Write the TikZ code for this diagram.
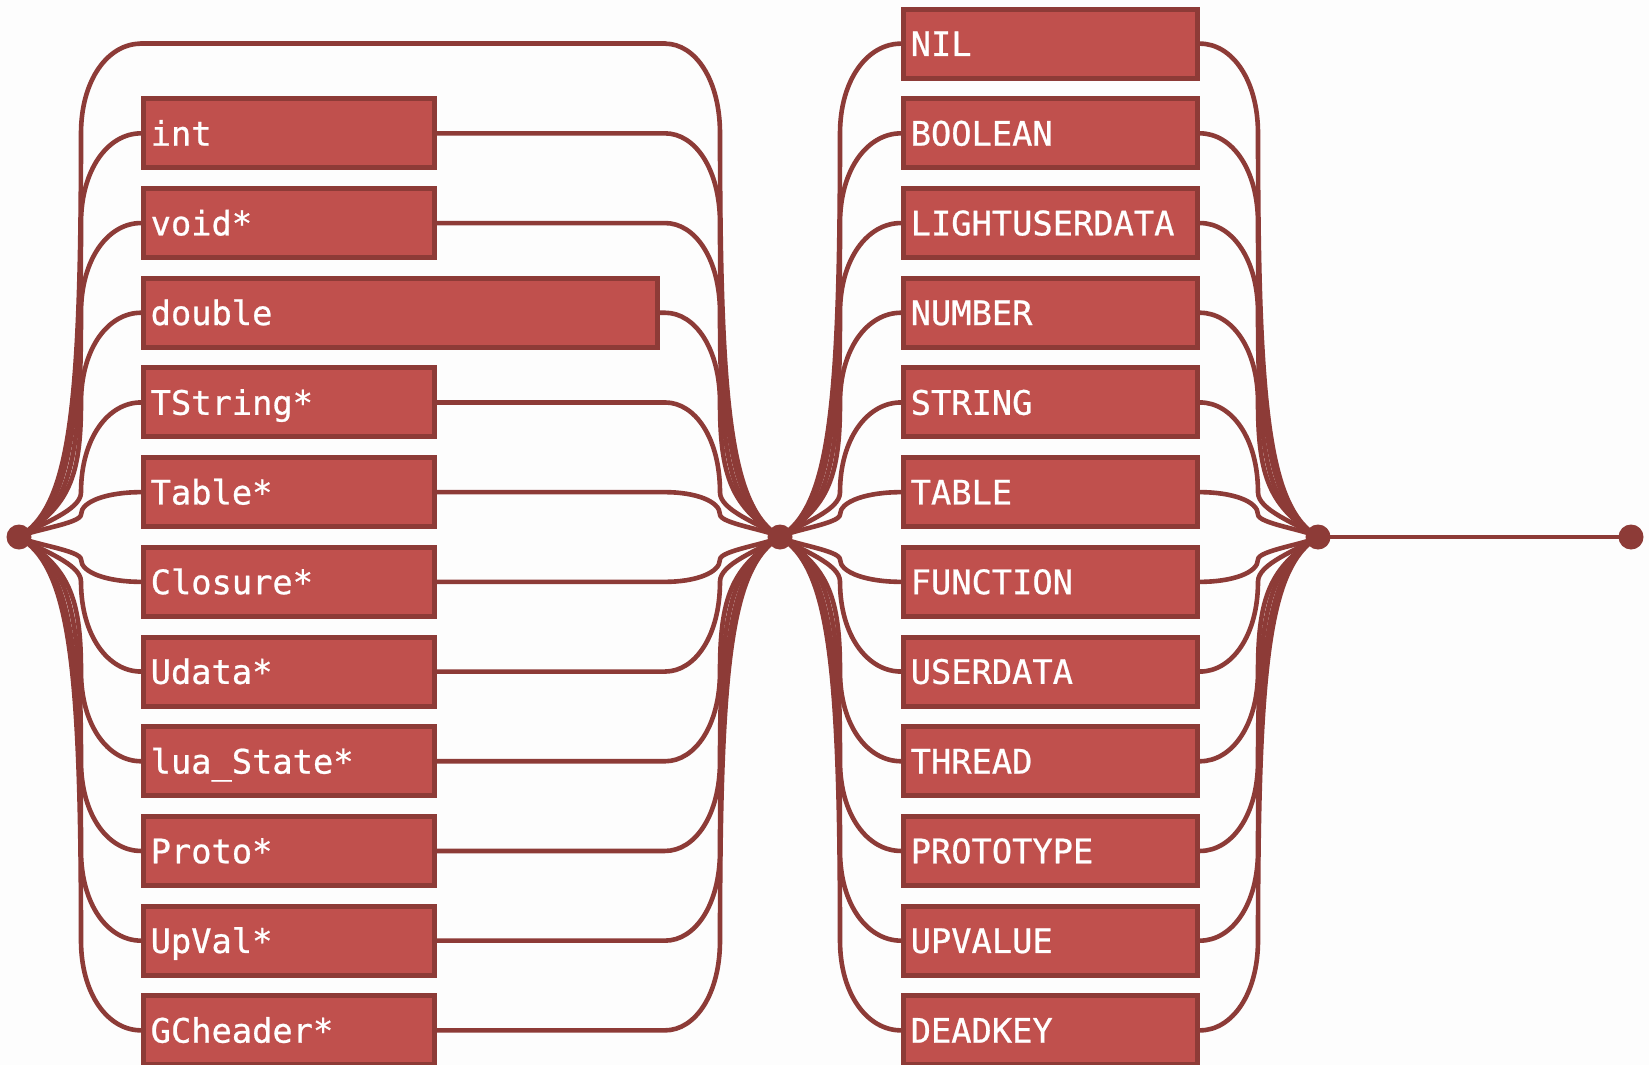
\documentclass[tikz,border=0pt]{standalone}
\usepackage{fontspec}
\newfontfamily\boxfont{DejaVu Sans Mono}[BoldFont=DejaVu Sans Mono, BoldFeatures={FakeBold=0.7}]
\definecolor{boxfill}{HTML}{C0504D}
\definecolor{boxedge}{HTML}{8D3B37}
\definecolor{railcol}{HTML}{8D3B37}
\definecolor{paper}{HTML}{FDFDFD}

\tikzset{
  rail/.style={draw=railcol, line width=2.3pt, line cap=round, line join=round},
  joint/.style={circle, fill=railcol, inner sep=0pt, minimum size=12.5pt},
  typebox/.style={draw=boxedge, fill=boxfill, line width=2.5pt, outer sep=1.25pt,
    anchor=west, minimum height=34.5pt, inner xsep=3.6pt, inner ysep=0pt,
    text=white, font=\boxfont\bfseries\fontsize{16.85}{18}\selectfont,
    text height=12.3pt, text depth=0pt, align=left},
  lbox/.style={typebox, text width=138.3pt},
  wbox/.style={typebox, text width=249.8pt},
  rbox/.style={typebox, text width=139.8pt},
}

% One branch of a choice: from a junction dot, fan out to a vertical run,
% then bend into the row and finish at the given anchor.
% #1 junction node, #2 its x, #3 x of the vertical run,
% #4 x where the bend meets the row, #5 row y, #6 anchor reached at the end
\newcommand\railpath[6]{%
  \pgfmathsetmacro\rpd{abs(#5-537)}%
  \pgfmathsetmacro\rps{(#5>537)?1:-1}%
  \pgfmathsetmacro\rpva{(\rpd>=110)?90:\rpd/2}%
  \pgfmathsetmacro\rph{\rpd-\rpva}%
  \pgfmathsetmacro\rpk{min(1,\rph/100)}%
  \pgfmathsetmacro\rpax{#2+0.8*(#3-#2)*\rpk}%
  \pgfmathsetmacro\rpay{537+\rps*30*\rpk}%
  \pgfmathsetmacro\rpby{537+\rps*max(60*\rpk,min(0.3*\rph,130))}%
  \pgfmathsetmacro\rpcy{537+\rps*\rph}%
  \pgfmathsetmacro\rpdy{#5-\rps*\rpva}%
  \pgfmathsetmacro\rpey{#5-\rps*0.4*\rpva}%
  \pgfmathsetmacro\rpfx{#4-0.55*(#4-#3)}%
  \draw[rail] (#1.center) .. controls (\rpax,\rpay) and (#3,\rpby) .. (#3,\rpcy)
    -- (#3,\rpdy) .. controls (#3,\rpey) and (\rpfx,#5) .. (#4,#5) -- (#6);
}

\begin{document}
\begin{tikzpicture}[x=0.5pt, y=-0.5pt]
\fill[paper] (0,0) rectangle (1649,1065);
\useasboundingbox (0,0) rectangle (1649,1065);
\clip (0,0) rectangle (1649,1065);

% junction dots
\node[joint] (dotL) at (19,537) {};
\node[joint] (dotM) at (780,537) {};
\node[joint] (dotR) at (1318,537) {};
\node[joint] (dotE) at (1631,537) {};

% C types
\node[lbox] (tint)     at (141,133.35)  {int};
\node[lbox] (tvoid)    at (141,223.05)  {void*};
\node[wbox] (tdouble)  at (141,312.75)  {double};
\node[lbox] (tstring)  at (141,402.45)  {TString*};
\node[lbox] (ttable)   at (141,492.15)  {Table*};
\node[lbox] (tclosure) at (141,581.85)  {Closure*};
\node[lbox] (tudata)   at (141,671.55)  {Udata*};
\node[lbox] (tstate)   at (141,761.25)  {lua\_State*};
\node[lbox] (tproto)   at (141,850.95)  {Proto*};
\node[lbox] (tupval)   at (141,940.65)  {UpVal*};
\node[lbox] (tgch)     at (141,1030.35) {GCheader*};

% Lua type tags
\node[rbox] (knil)   at (901,43.65)   {NIL};
\node[rbox] (kbool)  at (901,133.35)  {BOOLEAN};
\node[rbox] (klud)   at (901,223.05)  {LIGHTUSERDATA};
\node[rbox] (knum)   at (901,312.75)  {NUMBER};
\node[rbox] (kstr)   at (901,402.45)  {STRING};
\node[rbox] (ktab)   at (901,492.15)  {TABLE};
\node[rbox] (kfun)   at (901,581.85)  {FUNCTION};
\node[rbox] (kud)    at (901,671.55)  {USERDATA};
\node[rbox] (kthr)   at (901,761.25)  {THREAD};
\node[rbox] (kproto) at (901,850.95)  {PROTOTYPE};
\node[rbox] (kupv)   at (901,940.65)  {UPVALUE};
\node[rbox] (kdead)  at (901,1030.35) {DEADKEY};

% empty branch over the top of the first choice
\coordinate (byL) at (141,43.65);
\coordinate (byR) at (665,43.65);
\railpath{dotL}{19}{81}{141}{43.65}{byL}
\railpath{dotM}{780}{720}{665}{43.65}{byR}
\draw[rail] (byL) -- (byR);

% first choice: C types
\foreach \n [count=\i from 0] in {tint,tvoid,tdouble,tstring,ttable,tclosure,tudata,tstate,tproto,tupval,tgch}{
  \pgfmathsetmacro\ry{537+(\i-4.5)*89.7}
  \railpath{dotL}{19}{81}{141}{\ry}{\n.west}
  \railpath{dotM}{780}{720}{665}{\ry}{\n.east}
}

% second choice: type tags
\foreach \n [count=\i from -1] in {knil,kbool,klud,knum,kstr,ktab,kfun,kud,kthr,kproto,kupv,kdead}{
  \pgfmathsetmacro\ry{537+(\i-4.5)*89.7}
  \railpath{dotM}{780}{840}{901}{\ry}{\n.west}
  \railpath{dotR}{1318}{1258}{1200}{\ry}{\n.east}
}

\draw[rail] (dotR) -- (dotE);
\end{tikzpicture}
\end{document}
